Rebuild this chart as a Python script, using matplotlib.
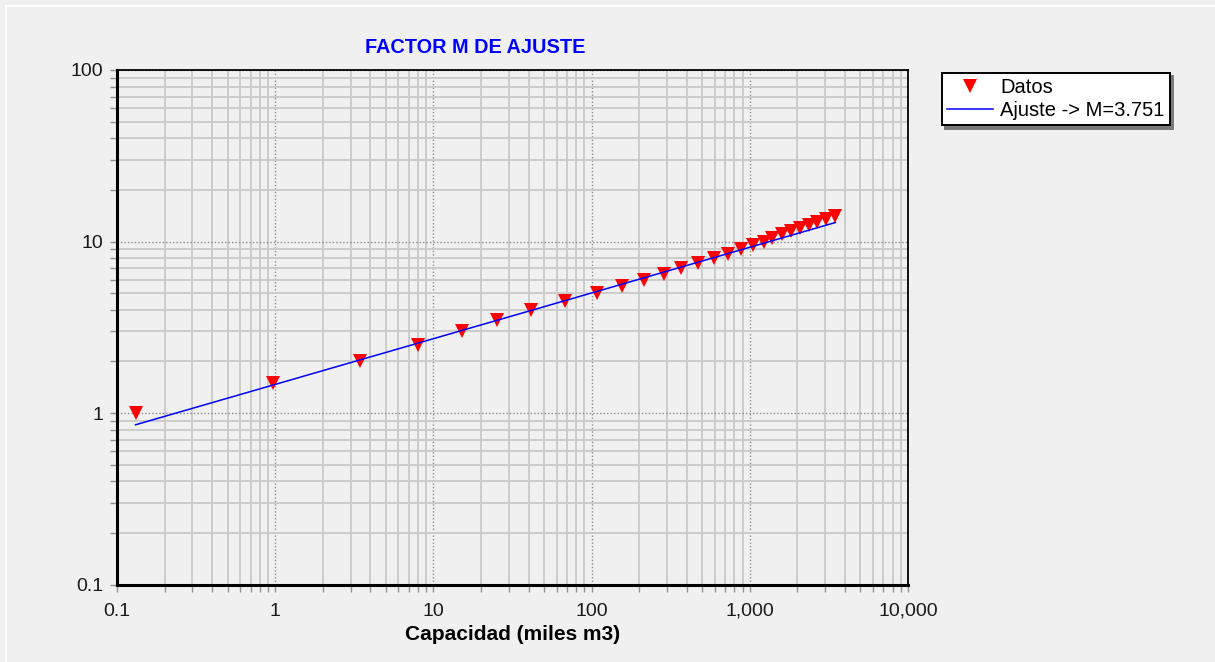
import matplotlib
matplotlib.use("Agg")
import matplotlib.pyplot as plt
import numpy as np

# capacidad (miles m3) vs factor
capacidad = [0.131, 0.964, 3.42, 7.96, 15.1, 25.1, 41.2, 67.6, 108, 156, 214, 287,
             370, 472, 592, 728, 877, 1047, 1225, 1390, 1600, 1815, 2077, 2366,
             2675, 3050, 3475]
factor = [1.0, 1.5, 2.0, 2.5, 3.0, 3.5, 4.0, 4.5, 5.0, 5.5, 6.0, 6.5, 7.0, 7.5,
          8.0, 8.5, 9.0, 9.5, 10.0, 10.5, 11.0, 11.5, 12.0, 12.5, 13.0, 13.5, 14.0]

M = 3.751
coef = 0.237   # capacidad = coef * factor**M

x_ticks = [0.1, 1, 10, 100, 1000, 10000]
x_labels = ['0.1', '1', '10', '100', '1,000', '10,000']
y_ticks = [0.1, 1, 10, 100]
y_labels = ['0.1', '1', '10', '100']

plt.rcParams['font.family'] = ['Liberation Sans', 'DejaVu Sans']
bg = '#f0f0f0'

fig = plt.figure(figsize=(12.15, 6.62), dpi=100, facecolor=bg)
ax = fig.add_axes([117 / 1215, 1 - 584.5 / 662, 791 / 1215, 514.5 / 662])
ax.set_facecolor(bg)

# fitted curve between first and last sample
x_fit = np.array([capacidad[0], capacidad[-1]])
y_fit = (x_fit / coef) ** (1 / M)

ax.plot(capacidad, factor, linestyle='none', marker='v', markersize=10.5,
        color='#ff0000', markeredgewidth=0, label='Datos', zorder=3)
ax.plot(x_fit, y_fit, color='#0000ff', linewidth=1.1,
        label='Ajuste -> M=%.3f' % M, zorder=4)

ax.set_xscale('log')
ax.set_yscale('log')
ax.set_xlim(0.1, 10000)
ax.set_ylim(0.1, 100)
ax.set_xticks(x_ticks, x_labels)
ax.set_yticks(y_ticks, y_labels)
ax.xaxis.set_minor_formatter(matplotlib.ticker.NullFormatter())
ax.yaxis.set_minor_formatter(matplotlib.ticker.NullFormatter())

ax.grid(which='minor', color='#cccccc', linestyle='-', linewidth=1.4)
ax.grid(which='major', color='#8c8c8c', linestyle=(0, (1, 1.5)), linewidth=1.0)
ax.set_axisbelow(True)

ax.tick_params(axis='both', which='both', direction='out', color='#909090',
               labelsize=14, labelcolor='#1a1a1a')
ax.tick_params(axis='both', which='major', length=5, width=1)
ax.tick_params(axis='both', which='minor', length=5, width=1)
ax.tick_params(axis='x', which='major', pad=8)
ax.tick_params(axis='y', which='major', pad=5)

for side in ['left', 'bottom']:
    ax.spines[side].set_linewidth(2.2)
for side in ['top', 'right']:
    ax.spines[side].set_linewidth(1.3)

ax.set_xlabel('Capacidad (miles m3)', fontsize=15, fontweight='bold', labelpad=4)
fig.text(475 / 1215, 1 - 47.5 / 662, 'FACTOR M DE AJUSTE', color='#0000ff',
         fontsize=14.3, fontweight='bold', ha='center', va='center')

leg = fig.legend(loc='upper left', bbox_to_anchor=(942 / 1215, 1 - 73 / 662),
                 fontsize=14.5, frameon=True, fancybox=False, borderaxespad=0,
                 shadow={'ox': 2.5, 'oy': -2.5, 'color': '#7a7a7a', 'alpha': 1},
                 borderpad=0.25, labelspacing=0.2, handlelength=2.3,
                 handletextpad=0.35, markerscale=0.95)
leg.get_frame().set_edgecolor('black')
leg.get_frame().set_linewidth(1.4)
leg.get_frame().set_facecolor('white')

# light etched edge along the top and left of the panel
fig.add_artist(plt.Line2D([6 / 1215, 1], [1 - 6 / 662, 1 - 6 / 662], color='white', linewidth=1.5))
fig.add_artist(plt.Line2D([6 / 1215, 6 / 1215], [0, 1 - 6 / 662], color='white', linewidth=1.5))

fig.savefig('out.png', dpi=100, facecolor=bg)
